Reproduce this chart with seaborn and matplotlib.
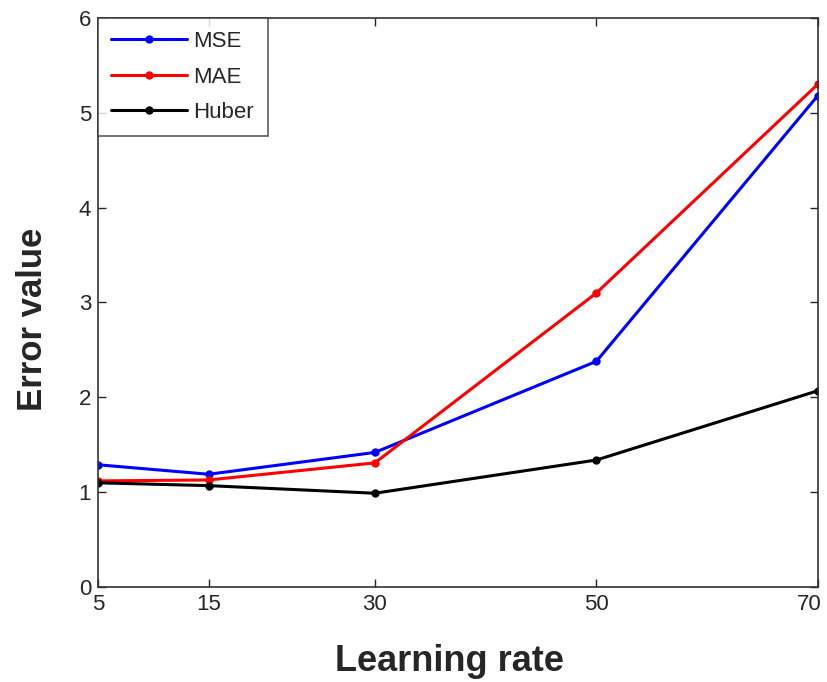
import numpy as np
import pandas as pd
import matplotlib
matplotlib.use("Agg")
import matplotlib.pyplot as plt
import matplotlib.transforms as mtransforms
import seaborn as sns

learning_rate = [5, 15, 30, 50, 70]
mse = [1.29, 1.19, 1.42, 2.38, 5.18]
mae = [1.12, 1.13, 1.31, 3.10, 5.30]
huber = [1.10, 1.07, 0.99, 1.34, 2.07]
series_names = ["MSE", "MAE", "Huber"]
colors = ["#0000ff", "#ff0000", "#000000"]

df = pd.DataFrame({
    "Learning rate": learning_rate * 3,
    "Error value": mse + mae + huber,
    "Loss": [n for n in series_names for _ in learning_rate],
})

sns.set_style("white")
plt.rcParams["font.family"] = ["Liberation Sans", "DejaVu Sans"]

fig = plt.figure(figsize=(8.27, 6.82), dpi=100)
ax = fig.add_axes([0.1185, 0.139, 0.8705, 0.835])

sns.lineplot(data=df, x="Learning rate", y="Error value", hue="Loss",
             hue_order=series_names, palette=colors, marker="o",
             markersize=6, markeredgewidth=0, linewidth=2.2, ax=ax)

ax.set_xlim(5, 70)
ax.set_ylim(0, 6)
ax.set_xticks(learning_rate)
ax.set_xticklabels([str(v) for v in learning_rate])
ax.set_yticks(range(0, 7))
ax.tick_params(direction="in", length=6, width=1, labelsize=16,
               top=True, right=True, bottom=True, left=True, pad=5)
for s in ax.spines.values():
    s.set_color("#333333")
    s.set_linewidth(1.2)

# nudge the last x tick label so it stays inside the figure
last = ax.get_xticklabels()[-1]
last.set_transform(last.get_transform() +
                   mtransforms.ScaledTranslation(-9 / 100, 0, fig.dpi_scale_trans))

ax.set_xlabel("Learning rate", fontsize=26, fontweight="bold")
ax.set_ylabel("Error value", fontsize=25, fontweight="bold")
ax.xaxis.set_label_coords(0.488, -0.099)
ax.yaxis.set_label_coords(-0.068, 0.47)

leg = ax.legend(loc="upper left", fontsize=16, frameon=True, fancybox=False,
                edgecolor="#333333", borderaxespad=0.0, handlelength=3.4,
                labelspacing=0.65, handletextpad=0.3, borderpad=0.6)
leg.get_frame().set_linewidth(1.2)

fig.savefig("out.png", dpi=100)
